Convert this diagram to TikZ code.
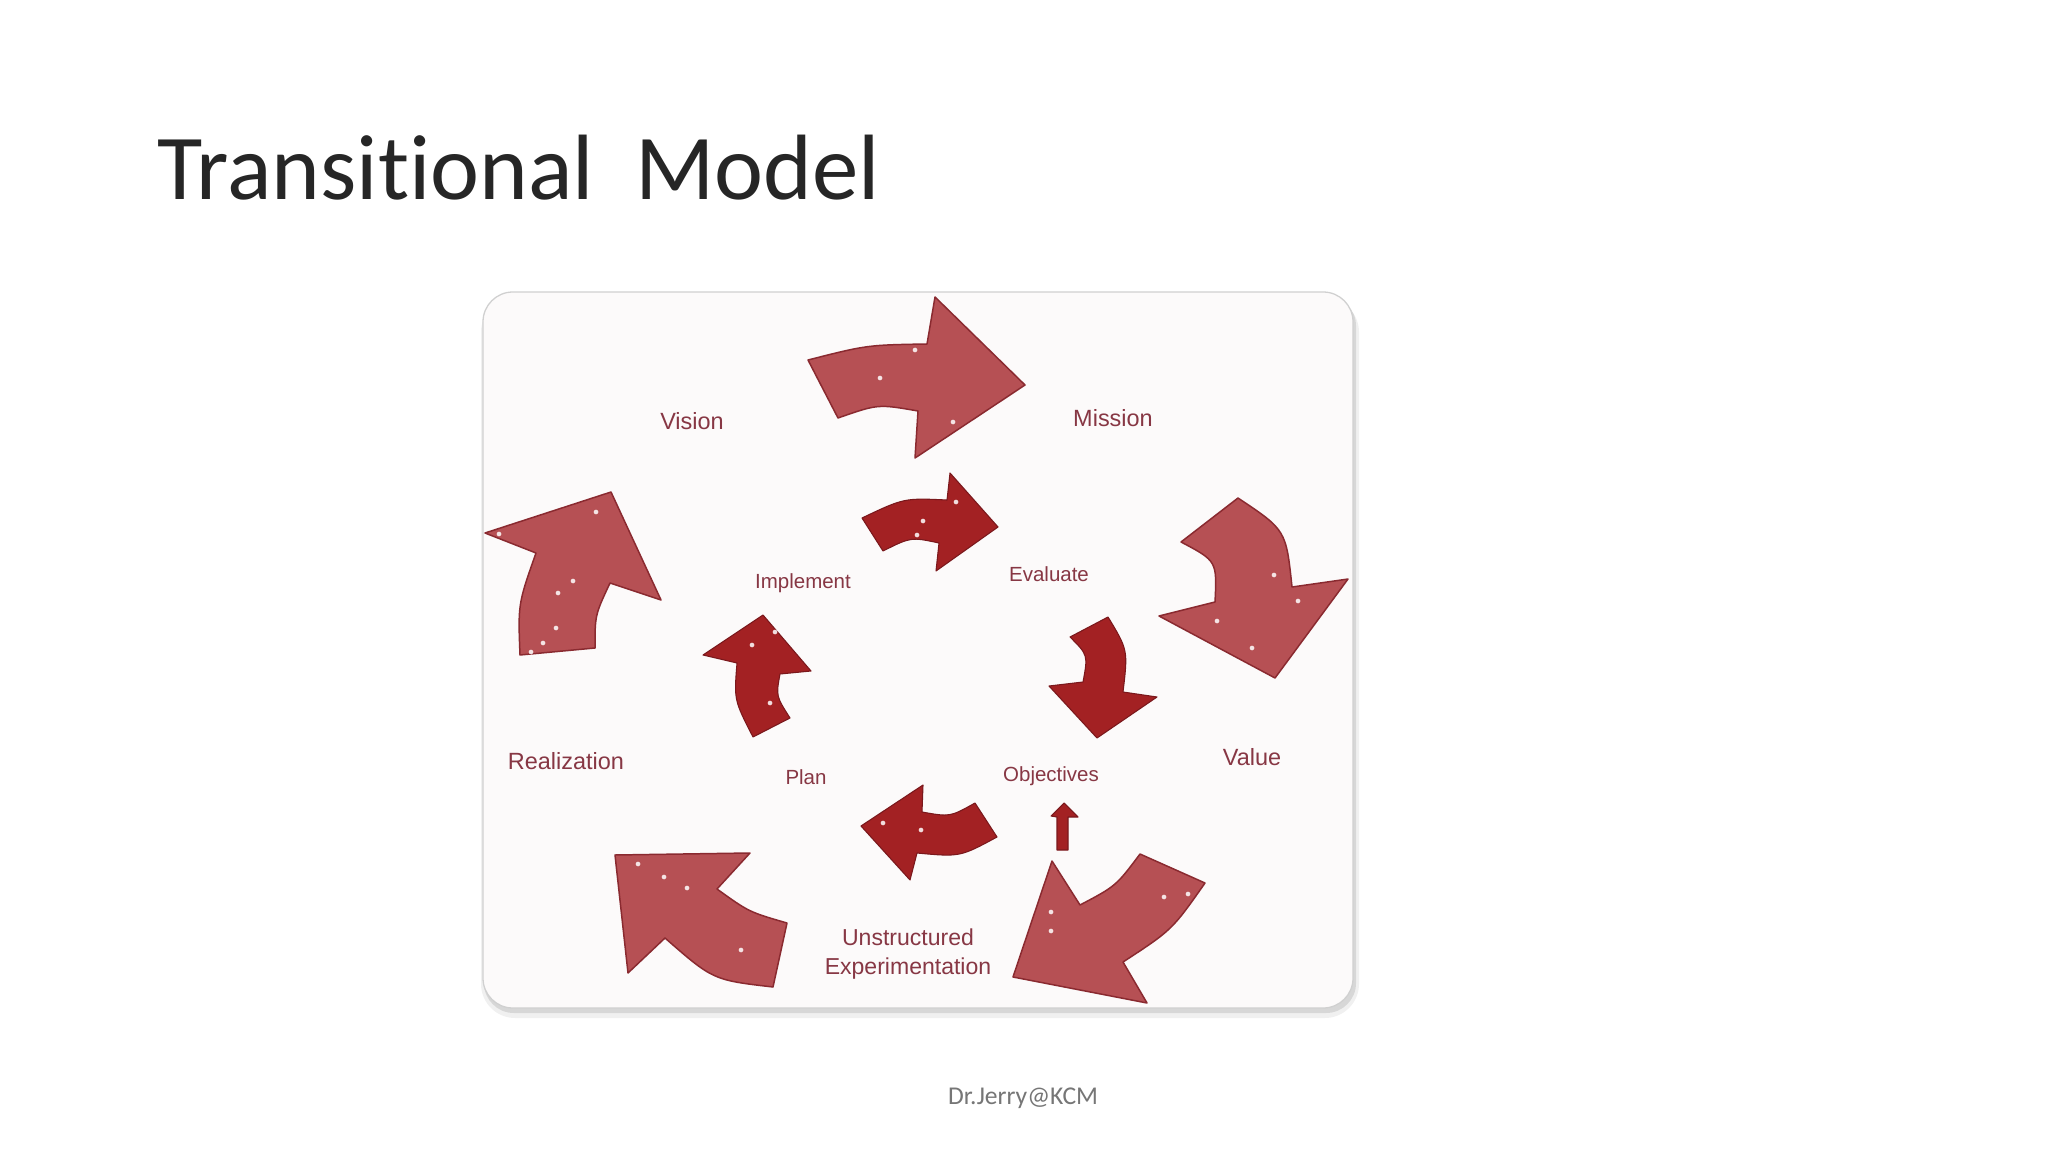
\documentclass[tikz,border=0pt]{standalone}
\usepackage{fontspec}
\setmainfont{Carlito}[Ligatures=NoCommon]
\newfontfamily\arialfont{Liberation Sans}
\definecolor{outerred}{RGB}{182,80,84}
\definecolor{outeredge}{RGB}{138,42,48}
\definecolor{innerred}{RGB}{163,33,35}
\definecolor{inneredge}{RGB}{122,24,28}
\definecolor{labelred}{RGB}{135,55,68}
\definecolor{framegray}{RGB}{208,208,208}
\definecolor{paperwhite}{RGB}{252,250,250}
\definecolor{footgray}{RGB}{118,118,118}

\begin{document}
\begin{tikzpicture}[x=0.46875pt, y=-0.46875pt,
  outer/.style={fill=outerred, draw=outeredge, line width=0.7pt, line join=round},
  inner/.style={fill=innerred, draw=inneredge, line width=0.5pt, line join=round},
  lbl/.style={font=\arialfont\fontsize{11}{13}\selectfont, text=labelred, align=center, inner sep=0pt},
  smalllbl/.style={lbl, font=\arialfont\fontsize{9.6}{11}\selectfont}]

\useasboundingbox (0,0) rectangle (2048,1152);
\fill[white] (0,0) rectangle (2048,1152);

\node[anchor=base west, inner sep=0pt, text=black!85, font=\fontsize{43.5}{52}\selectfont] (title) at (157,200) {Transitional~ Model};

\fill[black, opacity=0.06, rounded corners=16pt] (481,298) rectangle (1359,1018);
\fill[black, opacity=0.10, rounded corners=14pt] (484,296) rectangle (1356,1013);
\filldraw[fill=paperwhite, draw=framegray, line width=0.6pt, rounded corners=14pt] (483,292) rectangle (1353,1008);

\fill[outer] (808,360) .. controls (867,345) .. (927,344) -- (935,297) -- (1025,385) -- (915,458) -- (918,411)
  .. controls (878,404) .. (838,418) -- cycle;
\fill[outer] (1181,542) -- (1238,498) .. controls (1286,530) .. (1292,587) -- (1348,579) -- (1275,678) -- (1159,616)
  -- (1215,602) .. controls (1217,561) .. cycle;
\fill[outer] (1140,854) -- (1205,883) .. controls (1172,930) .. (1123,962) -- (1147,1003) -- (1013,977) -- (1052,861)
  -- (1080,905) .. controls (1116,886) .. cycle;
\fill[outer] (750,853) -- (615,855) -- (628,973) -- (665,938) .. controls (713,980) .. (773,987) -- (787,923)
  .. controls (749,912) .. (717,889) -- cycle;
\fill[outer] (611,492) -- (661,600) -- (610,583) .. controls (595,615) .. (595,648) -- (520,655)
  .. controls (518,604) .. (536,553) -- (485,533) -- cycle;

\fill[inner] (862,518) .. controls (904,498) .. (947,500) -- (950,473) -- (998,527) -- (936,571) -- (939,543)
  .. controls (911,537) .. (883,551) -- cycle;
\fill[inner] (1070,637) -- (1108,617) .. controls (1128,650) .. (1123,692) -- (1157,697) -- (1097,738) -- (1049,686)
  -- (1083,682) .. controls (1088,655) .. cycle;
\fill[inner] (923,785) -- (861,826) -- (910,880) -- (917,853) .. controls (960,857) .. (997,837) -- (975,803)
  .. controls (950,817) .. (922,812) -- cycle;
\fill[inner] (763,615) -- (811,671) -- (780,674) .. controls (776,696) .. (790,718) -- (753,737)
  .. controls (734,700) .. (737,663) -- (703,655) -- cycle;
\fill[inner] (1064,803) -- (1078,817) -- (1068,817) -- (1068,850) -- (1057,850) -- (1057,817) -- (1051,816) -- cycle;

\foreach \px/\py in {880/378, 915/350, 953/422, 1274/575, 1298/601, 1217/621, 1252/648,
  1164/897, 1051/912, 1051/931, 1188/894, 638/864, 687/888, 741/950, 664/877,
  596/512, 573/581, 558/593, 556/628, 543/643, 531/652, 499/534,
  956/502, 923/521, 917/535, 752/645, 770/703, 775/632, 883/823, 921/830}
  \fill[white, opacity=0.85] (\px,\py) circle (1.1pt);

\node[lbl] (vision) at (692,421) {Vision};
\node[lbl] (mission) at (1113,418) {Mission};
\node[lbl] (value) at (1252,757) {Value};
\node[lbl] (realization) at (566,761) {Realization};
\node[lbl, font=\arialfont\fontsize{10.8}{13.2}\selectfont] (unstructured) at (908,954) {Unstructured\\Experimentation};
\node[smalllbl] (implement) at (803,583) {Implement};
\node[smalllbl] (evaluate) at (1049,574) {Evaluate};
\node[smalllbl] (objectives) at (1051,776) {Objectives};
\node[smalllbl] (plan) at (806,777) {Plan};

\node[text=footgray, font=\fontsize{12}{14}\selectfont] (footer) at (1023,1098) {Dr.Jerry@KCM};

\end{tikzpicture}
\end{document}
